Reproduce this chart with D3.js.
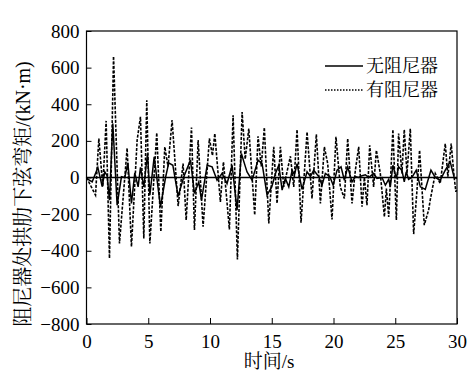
<!DOCTYPE html>
<html>
<head>
<meta charset="utf-8">
<script src="https://cdn.jsdelivr.net/npm/d3@7"></script>
<style>
	body { margin: 0; background: #fff; }
	svg { display: block; }
	.tick text { font-family: "Liberation Serif", "DejaVu Serif", serif; font-size: 19px; fill: #000; }
	.cjk { font-family: "Liberation Serif", "Noto Serif CJK SC", "Noto Sans CJK SC", serif; fill: #000; }
</style>
</head>
<body>
<svg id="chart" width="470" height="389"></svg>
<script>
// series (time in s, moment in kN·m)
const solidTime = [0, 0.46, 0.92, 1.27, 1.48, 1.67, 1.86, 2.13, 2.48, 2.83, 3.1, 3.35, 3.64, 3.91, 4.18, 4.37, 4.64, 4.94, 5.13, 5.48, 5.99, 6.4, 6.66, 6.99, 7.42, 7.88, 8.42, 8.74, 9.09, 9.31, 9.77, 10.17, 10.57, 10.98, 11.38, 11.79, 12.19, 12.54, 12.87, 13.0, 13.41, 13.89, 14.22, 14.62, 15.0, 15.3, 15.57, 15.84, 16.1, 16.38, 16.65, 16.84, 17.05, 17.45, 17.86, 18.13, 18.4, 18.8, 19.07, 19.34, 19.7, 19.97, 20.29, 20.61, 20.88, 21.15, 21.5, 21.77, 22.04, 22.31, 22.58, 22.85, 23.25, 23.52, 23.93, 24.2, 24.47, 24.6, 24.81, 25.09, 25.27, 25.54, 25.73, 25.89, 26.08, 26.35, 26.7, 27.03, 27.43, 27.89, 28.24, 28.64, 29.05, 29.45, 29.77, 30];
const solidValue = [-5, -24, 55, -50, 31, 10, -124, 295, -151, 4, 0, 80, -142, 25, -51, 55, -51, 131, -96, 113, -160, 0, 80, 67, -102, 4, 95, -87, -24, -124, 67, 58, -15, 22, -33, 67, -178, 131, 58, 30, -15, 95, 76, -96, -51, 22, 67, -69, -5, -51, 40, 15, 76, -65, 31, 5, 40, 5, -42, 22, 5, -42, 40, 58, -15, 58, -24, 5, 0, 10, 15, 0, 22, -5, 0, -42, -10, -51, 67, -5, 58, 40, -24, 31, -10, 0, 40, -51, -65, 40, 0, -15, 40, 85, 0, -5];

const dashedTime = [0, 0.73, 1.0, 1.32, 1.59, 1.86, 2.19, 2.67, 3.29, 3.64, 4.1, 4.37, 4.64, 4.88, 5.13, 5.69, 6.02, 6.34, 6.6, 6.93, 7.42, 7.82, 8.07, 8.5, 8.74, 9.04, 9.44, 9.95, 10.2, 10.39, 10.84, 11.09, 11.57, 11.87, 12.22, 12.6, 12.85, 13.14, 13.62, 13.89, 14.15, 14.4, 14.76, 15.16, 15.43, 15.7, 15.97, 16.51, 16.78, 17.05, 17.37, 17.86, 18.26, 18.61, 18.94, 19.26, 19.53, 19.88, 20.2, 20.55, 20.88, 21.15, 21.5, 21.77, 22.04, 22.31, 22.5, 22.71, 22.93, 23.25, 23.47, 23.79, 24.12, 24.28, 24.47, 24.81, 25.09, 25.27, 25.54, 25.73, 25.95, 26.22, 26.49, 26.76, 26.97, 27.35, 27.7, 27.84, 28.24, 28.64, 29.05, 29.26, 29.53, 29.77, 29.91, 30];
const dashedValue = [0, -96, 213, -50, 309, -442, 662, -360, 161, -378, 204, 331, -333, 422, -360, 244, -296, 167, 60, 313, -156, 76, -233, 273, -287, 204, -269, 213, 120, 240, -133, 85, -284, 340, -447, 358, 100, 267, -205, 225, 60, 273, -251, 167, -142, 167, -51, 116, -51, 262, -247, 249, -115, 236, -142, 167, 76, -229, 222, -51, -115, 213, -142, 40, 167, -160, 0, -151, 176, -51, 149, 22, -215, -60, -215, 262, -233, 240, 22, 262, 22, 267, -309, -69, 149, -260, -178, -120, 22, -33, 185, 4, 185, 0, -78, -60];

const xTicks = [0, 5, 10, 15, 20, 25, 30];
const yTicks = [-800, -600, -400, -200, 0, 200, 400, 600, 800];
const legendLabels = ["无阻尼器", "有阻尼器"];

const svg = d3.select("#chart");
const margin = { left: 86.5, right: 13, top: 31, bottom: 65 };
const W = 470 - margin.left - margin.right;
const H = 389 - margin.top - margin.bottom;
const g = svg.append("g").attr("transform", `translate(${margin.left},${margin.top})`);

const x = d3.scaleLinear().domain([0, 30]).range([0, W]);
const y = d3.scaleLinear().domain([-800, 800]).range([H, 0]);

const fmt = d => d < 0 ? "\u2212" + Math.abs(d) : String(d);

// axes with inward ticks
const xAxis = g.append("g").attr("transform", `translate(0,${H})`)
	.call(d3.axisBottom(x).tickValues(xTicks).tickSize(-6).tickPadding(10).tickFormat(d => d));
const yAxis = g.append("g")
	.call(d3.axisLeft(y).tickValues(yTicks).tickSize(-5).tickPadding(7).tickFormat(fmt));
[xAxis, yAxis].forEach(a => {
	a.select(".domain").remove();
	a.selectAll(".tick line").attr("stroke", "#000");
});
xAxis.selectAll(".tick text").attr("dy", "0.75em");

// frame
g.append("rect").attr("width", W).attr("height", H)
	.attr("fill", "none").attr("stroke", "#000").attr("stroke-width", 1.2);

// zero line
g.append("line").attr("x1", 0).attr("x2", W).attr("y1", y(0)).attr("y2", y(0))
	.attr("stroke", "#000").attr("stroke-width", 1.4);

const line = d3.line().x(d => x(d[0])).y(d => y(d[1]));

g.append("path")
	.datum(d3.zip(dashedTime, dashedValue))
	.attr("d", line)
	.attr("fill", "none").attr("stroke", "#000").attr("stroke-width", 1.6)
	.attr("stroke-dasharray", "3,1.5");

g.append("path")
	.datum(d3.zip(solidTime, solidValue))
	.attr("d", line)
	.attr("fill", "none").attr("stroke", "#000").attr("stroke-width", 1.5);

// legend
const legend = svg.append("g");
legendLabels.forEach((lab, i) => {
	const ly = 66 + i * 24;
	legend.append("line").attr("x1", 325).attr("x2", 363).attr("y1", ly).attr("y2", ly)
		.attr("stroke", "#000").attr("stroke-width", 1.4)
		.attr("stroke-dasharray", i === 0 ? null : "1.5,1.5");
	legend.append("text").attr("class", "cjk").attr("x", 366).attr("y", ly)
		.attr("dy", "0.35em").attr("font-size", 18).text(lab);
});

// axis titles
svg.append("text").attr("class", "cjk")
	.attr("x", 269).attr("y", 361).attr("dy", "0.35em")
	.attr("text-anchor", "middle").attr("font-size", 19).text("时间/s");

svg.append("text").attr("class", "cjk")
	.attr("transform", "translate(23,194) rotate(-90)")
	.attr("dy", "0.35em")
	.attr("text-anchor", "middle").attr("font-size", 20).text("阻尼器处拱肋下弦弯矩/(kN·m)");
</script>
</body>
</html>
